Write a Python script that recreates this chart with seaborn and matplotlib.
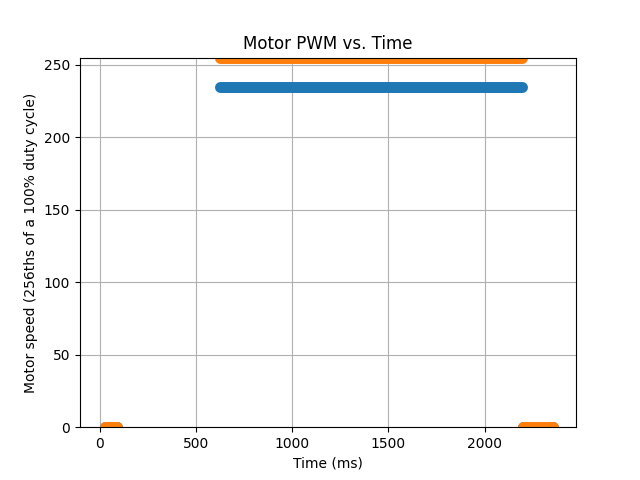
import matplotlib
matplotlib.use("Agg")
import matplotlib.pyplot as plt
import seaborn as sns
import pandas as pd

# Segments of constant PWM (start/end time in ms, value)
motor = ["A", "A", "A", "B", "B", "B"]
segment = [1, 2, 3, 1, 2, 3]
t_start = [26, 624, 2199, 26, 624, 2199]
t_end = [91, 2194, 2352, 91, 2194, 2352]
pwm = [0, 235, 0, 0, 255, 0]

rows = []
for m, s, a, b, v in zip(motor, segment, t_start, t_end, pwm):
    rows.append({"motor": m, "seg": f"{m}{s}", "time": a, "pwm": v})
    rows.append({"motor": m, "seg": f"{m}{s}", "time": b, "pwm": v})
df = pd.DataFrame(rows)

fig, ax = plt.subplots(figsize=(6.4, 4.8), dpi=100)
sns.lineplot(data=df, x="time", y="pwm", hue="motor", units="seg",
             estimator=None, palette=["#1f77b4", "#ff7f0e"], linewidth=7.9,
             solid_capstyle="round", legend=False, ax=ax, sort=True)
ax.set_xlim(-102, 2474)
ax.set_ylim(0, 255)
ax.grid(True)
ax.set_axisbelow(True)
ax.set_title("Motor PWM vs. Time")
ax.set_xlabel("Time (ms)")
ax.set_ylabel("Motor speed (256ths of a 100% duty cycle)")
fig.savefig("out.png", dpi=100)
